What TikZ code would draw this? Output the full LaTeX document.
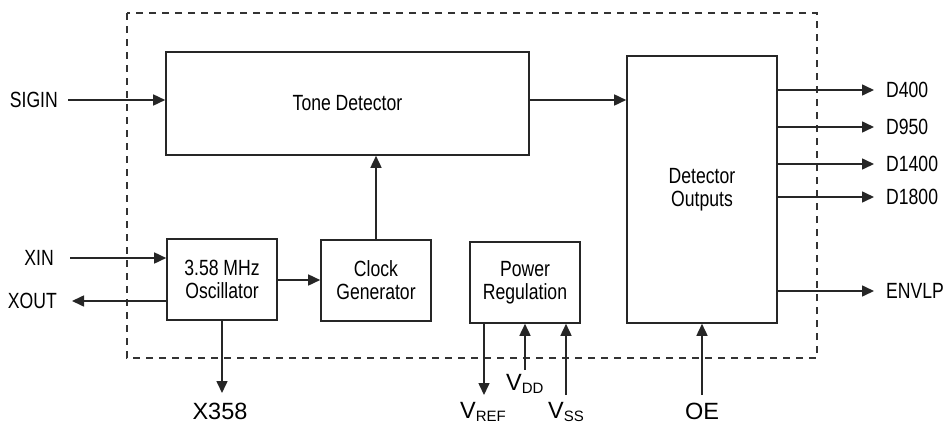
\documentclass[tikz,border=0pt]{standalone}
\usepackage{fontspec}
\setmainfont{Liberation Sans}
\newfontfamily\condf[FakeStretch=0.8]{Liberation Sans}
\usetikzlibrary{arrows.meta}
\newcommand\lowsub[1]{\raisebox{-3pt}{\fontsize{15}{15}\selectfont #1}}
\tikzset{
  blk/.style={draw=black!85, line width=1.6pt, rectangle, inner sep=0pt, align=center,
              font=\condf\fontsize{22}{24}\selectfont},
  sig/.style={draw=black!85, line width=1.6pt, -{Triangle[length=12pt,width=11pt]}},
  lbl/.style={inner sep=0pt, font=\condf\fontsize{22}{24}\selectfont},
  pin/.style={inner sep=0pt, font=\fontsize{23.5}{25}\selectfont},
  chip/.style={draw=black!80, line width=1.3pt, dash pattern=on 7pt off 6pt}
}
\begin{document}
\begin{tikzpicture}[x=1pt,y=-1pt]
\useasboundingbox (0,0) rectangle (943,423);
% chip outline
\coordinate (c1) at (127,13);
\coordinate (c2) at (817,358);
\draw[chip] (c1) rectangle (c2);
% blocks
\node[blk, minimum width=363pt, minimum height=103pt] (tone) at (347.5,103.5) {Tone Detector};
\node[blk, minimum width=150pt, minimum height=267pt] (det) at (702,189.5) {Detector\\[-1pt]Outputs};
\node[blk, minimum width=110pt, minimum height=81pt] (osc) at (222,279.5) {3.58 MHz\\[-1pt]Oscillator};
\node[blk, minimum width=110pt, minimum height=81pt] (clk) at (376,280.5) {Clock\\[-1pt]Generator};
\node[blk, minimum width=110pt, minimum height=81pt] (pwr) at (525,282.5) {Power\\[-1pt]Regulation};
% SIGIN
\coordinate (sigin) at (68,100);
\node[lbl, anchor=east] (lsig) at (58,100) {SIGIN};
\draw[sig] (sigin) -- (sigin -| tone.west);
\coordinate (tdo) at (529,100);
\draw[sig] (tdo) -- (tdo -| det.west);
% clock to tone
\draw[sig] (clk.north) -- (clk.north |- tone.south);
% osc to clock
\coordinate (oc) at (277,280);
\draw[sig] (oc) -- (oc -| clk.west);
% XIN / XOUT
\coordinate (xin) at (70,258);
\node[lbl, anchor=east] (lxin) at (54,258) {XIN};
\draw[sig] (xin) -- (xin -| osc.west);
\coordinate (xout) at (72,301);
\node[lbl, anchor=east] (lxout) at (57,301) {XOUT};
\draw[sig] (xout -| osc.west) -- (xout);
% X358
\coordinate (x358) at (222,393);
\draw[sig] (osc.south) -- (x358);
\node[pin, anchor=base] (lx358) at (220,419) {X358};
% outputs
\foreach \nm/\yy in {D400/90, D950/127, D1400/164, D1800/197, ENVLP/291}{
  \coordinate (o\nm) at (874,\yy);
  \draw[sig] (o\nm -| det.east) -- (o\nm);
  \node[lbl, anchor=west] (l\nm) at (886,\yy) {\nm};
}
% power
\coordinate (vref) at (484,395);
\draw[sig] (vref |- pwr.south) -- (vref);
\node[pin, anchor=base west] (lvref) at (460,418) {V\lowsub{REF}};
\coordinate (vdd) at (525,370);
\draw[sig] (vdd) -- (pwr.south);
\node[pin, anchor=base west] (lvdd) at (506,390) {V\lowsub{DD}};
\coordinate (vss) at (566,395);
\draw[sig] (vss) -- (vss |- pwr.south);
\node[pin, anchor=base west] (lvss) at (548,418) {V\lowsub{SS}};
% OE
\coordinate (oe) at (702,395);
\draw[sig] (oe) -- (det.south);
\node[pin, anchor=base] (loe) at (702,419) {OE};
\end{tikzpicture}
\end{document}
